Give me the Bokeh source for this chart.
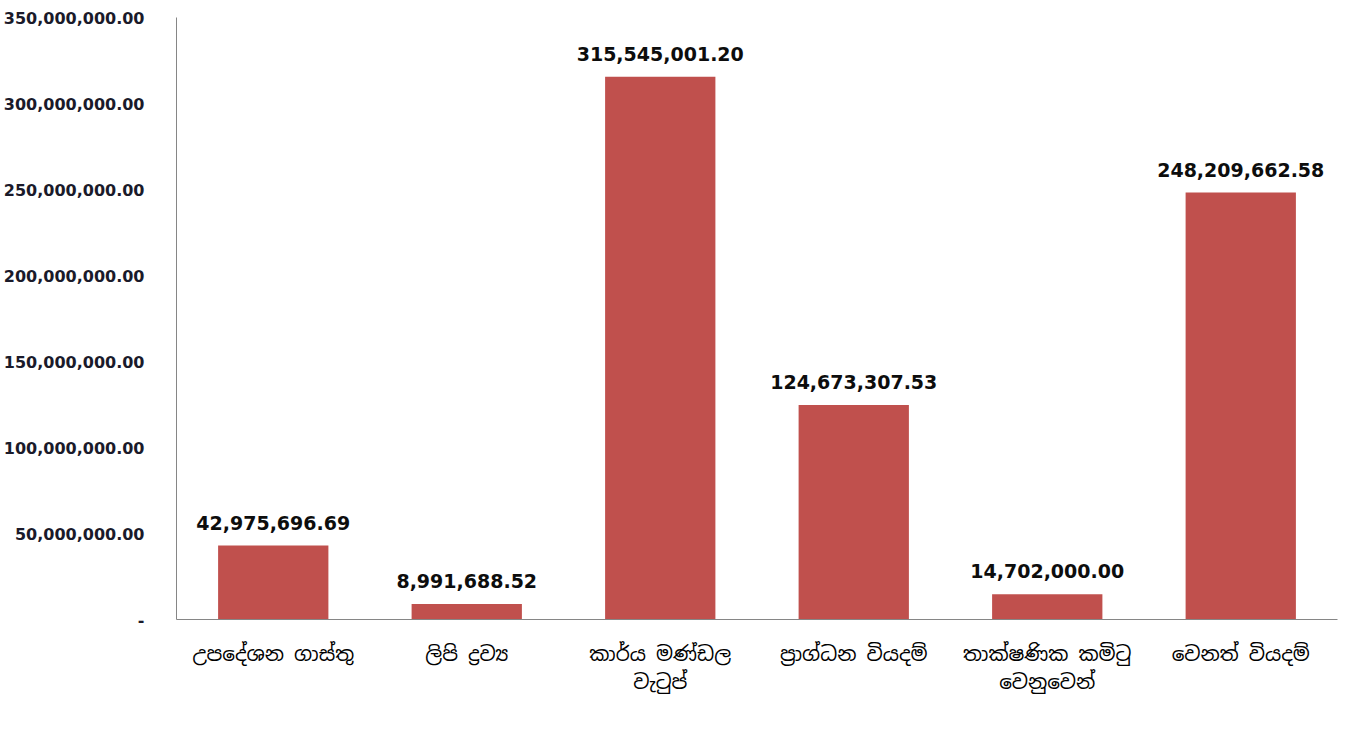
from bokeh.plotting import figure
from bokeh.models import ColumnDataSource, FixedTicker, NumeralTickFormatter, FactorRange, Range1d, Legend, LegendItem
from bokeh.embed import file_html
from bokeh.resources import INLINE
from bokeh.core.properties import value

categories = ["උපදේශන ගාස්තු", "ලිපි ද්‍රව්‍ය", "කාර්ය මණ්ඩල\nවැටුප්", "ප්‍රාග්ධන වියදම්", "තාක්ෂණික කමිටු\nවෙනුවෙන්", "වෙනත් වියදම්"]
values = [42975696.69, 8991688.52, 315545001.20, 124673307.53, 14702000.00, 248209662.58]
labels = ["42,975,696.69", "8,991,688.52", "315,545,001.20", "124,673,307.53", "14,702,000.00", "248,209,662.58"]
y_ticks = [0, 50e6, 100e6, 150e6, 200e6, 250e6, 300e6, 350e6]
series_name = "Series1"

src = ColumnDataSource(dict(cat=categories, val=values, lab=labels))

p = figure(x_range=FactorRange(*categories, range_padding=0), y_range=Range1d(0, 350e6),
           frame_width=1161, frame_height=602, output_backend="svg", toolbar_location=None,
           min_border_left=0, min_border_top=17, min_border_right=5, min_border_bottom=0)
p.outline_line_color = None
p.xgrid.grid_line_color = None
p.ygrid.grid_line_color = None

bars = p.vbar(x="cat", top="val", width=0.57, source=src, fill_color="#C0504D", line_color=None)
p.text(x="cat", y="val", text="lab", source=src, text_align="center", text_baseline="bottom",
       y_offset=-16, text_font=value("DejaVu Sans"), text_font_style="bold", text_font_size="19px",
       text_color="#0d0d0d")

ya = p.yaxis[0]
ya.ticker = FixedTicker(ticks=y_ticks)
ya.formatter = NumeralTickFormatter(format="0,0.00")
ya.major_label_overrides = {0: "-"}
ya.major_tick_line_color = None
ya.minor_tick_line_color = None
ya.axis_line_color = "#868686"
ya.major_label_text_font = "DejaVu Sans"
ya.major_label_text_font_style = "bold"
ya.major_label_text_font_size = "16px"
ya.major_label_text_color = "#1a1a2a"
ya.major_label_standoff = 26

xa = p.xaxis[0]
xa.major_tick_line_color = None
xa.minor_tick_line_color = None
xa.axis_line_color = "#868686"
xa.major_label_text_font = "Noto Sans Sinhala, Noto Sans, DejaVu Sans"
xa.major_label_text_font_size = "20px"
xa.major_label_text_line_height = 1.1
xa.major_label_text_color = "#000000"
xa.major_label_standoff = 15

legend = Legend(items=[LegendItem(label=series_name, renderers=[bars])], orientation="horizontal",
                location="center", label_text_font="DejaVu Sans", label_text_font_size="14px",
                glyph_width=9, glyph_height=9, border_line_color=None, background_fill_alpha=0,
                padding=0, margin=0, label_height=14, label_standoff=7)
p.add_layout(legend, "below")

open("out.html", "w").write(file_html(p, INLINE))
